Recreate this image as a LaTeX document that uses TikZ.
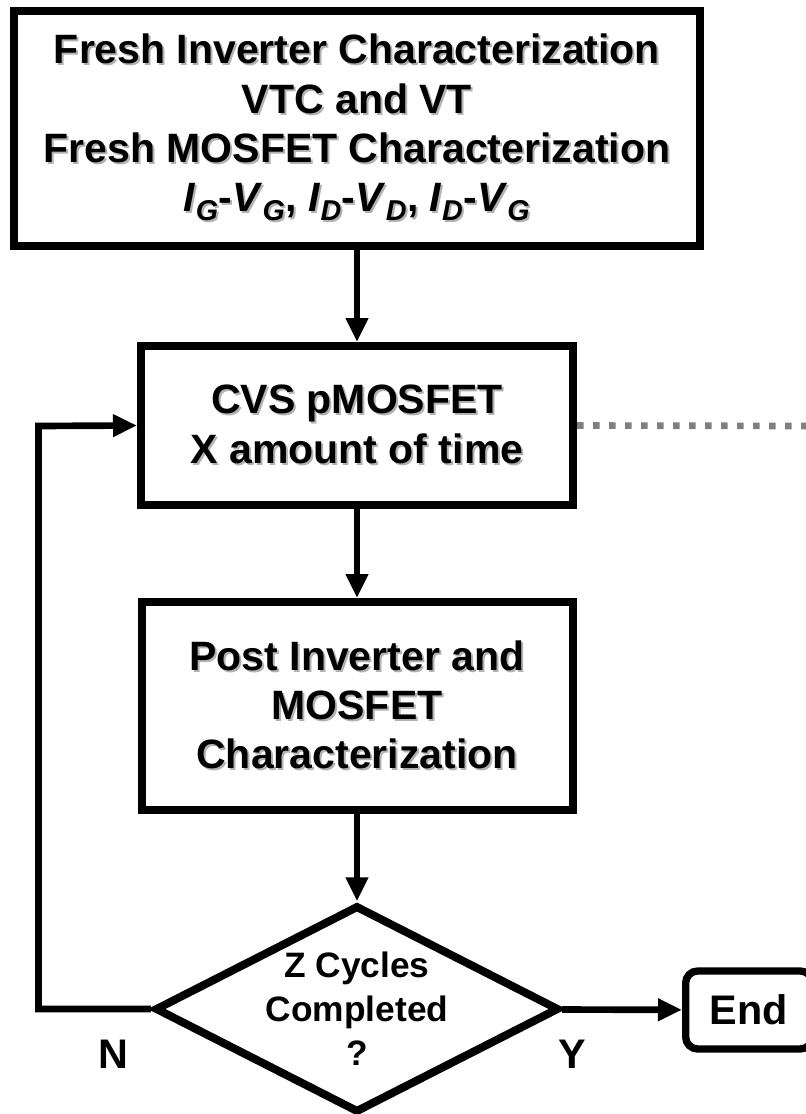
\documentclass[tikz,border=0pt]{standalone}
\usepackage{fontspec}
\setmainfont{Liberation Sans}
\usetikzlibrary{arrows.meta,shapes.geometric}

% gray drop shadow behind a line of text
\newcommand\shd[1]{\rlap{\kern1.5pt\raisebox{-1.5pt}{\textcolor{black!30}{#1}}}#1}
\newcommand\vsub[2]{\textit{#1}\textsubscript{\textit{#2}}}

\begin{document}
\begin{tikzpicture}[x=0.75pt, y=-0.75pt, >={Triangle[length=18pt,width=16pt]},
    stepbox/.style={draw, line width=6pt, align=center, inner sep=0pt,
        font=\bfseries\fontsize{30.75pt}{37pt}\selectfont},
    decision/.style={diamond, draw, line width=6pt, align=center, inner sep=0pt,
        aspect=1.95, minimum width=292pt, minimum height=152pt,
        font=\bfseries\fontsize{26.5pt}{33pt}\selectfont},
    endbox/.style={draw, line width=5.5pt, rounded corners=9pt, inner sep=0pt,
        minimum width=95pt, minimum height=58.5pt,
        font=\bfseries\fontsize{31pt}{37pt}\selectfont},
    flow/.style={->, line width=5pt},
    answer/.style={font=\bfseries\fontsize{31pt}{37pt}\selectfont}]
    \useasboundingbox (0,0) rectangle (806,1114);

    \node[stepbox, minimum width=514.5pt, minimum height=176pt] (fresh) at (357,128.5)
        {\shd{Fresh Inverter Characterization}\\
         \shd{VTC and VT}\\
         \shd{Fresh MOSFET Characterization}\\
         \shd{\vsub{I}{G}-\vsub{V}{G}, \vsub{I}{D}-\vsub{V}{D}, \vsub{I}{D}-\vsub{V}{G}}};

    \node[stepbox, minimum width=324pt, minimum height=119.25pt] (cvs) at (357,425.5)
        {\shd{CVS pMOSFET}\\ \shd{X amount of time}};

    \node[stepbox, minimum width=323.25pt, minimum height=156pt] (post) at (357,706)
        {\shd{Post Inverter and}\\ \shd{MOSFET}\\ \shd{Characterization}};

    \node[decision] (dec) at (357,1009) {Z Cycles\\Completed\\?};

    \node[endbox] (fin) at (749,1010) {End};

    \node[answer] (no) at (113,1054) {N};
    \node[answer] (yes) at (572,1054) {Y};

    \coordinate (back) at (38.5,426);
    \coordinate (rim) at (806,426);

    \draw[flow] (fresh) -- (cvs);
    \draw[flow] (cvs) -- (post);
    \draw[flow] (post) -- (dec);
    \draw[flow] (dec) -- (fin);
    \draw[flow] (dec.west) -| (back) -- (cvs.west);

    % stress continues off to the right
    \draw[gray, line width=5pt, dash pattern=on 5pt off 7pt] (cvs.east) -- (rim);
\end{tikzpicture}
\end{document}
